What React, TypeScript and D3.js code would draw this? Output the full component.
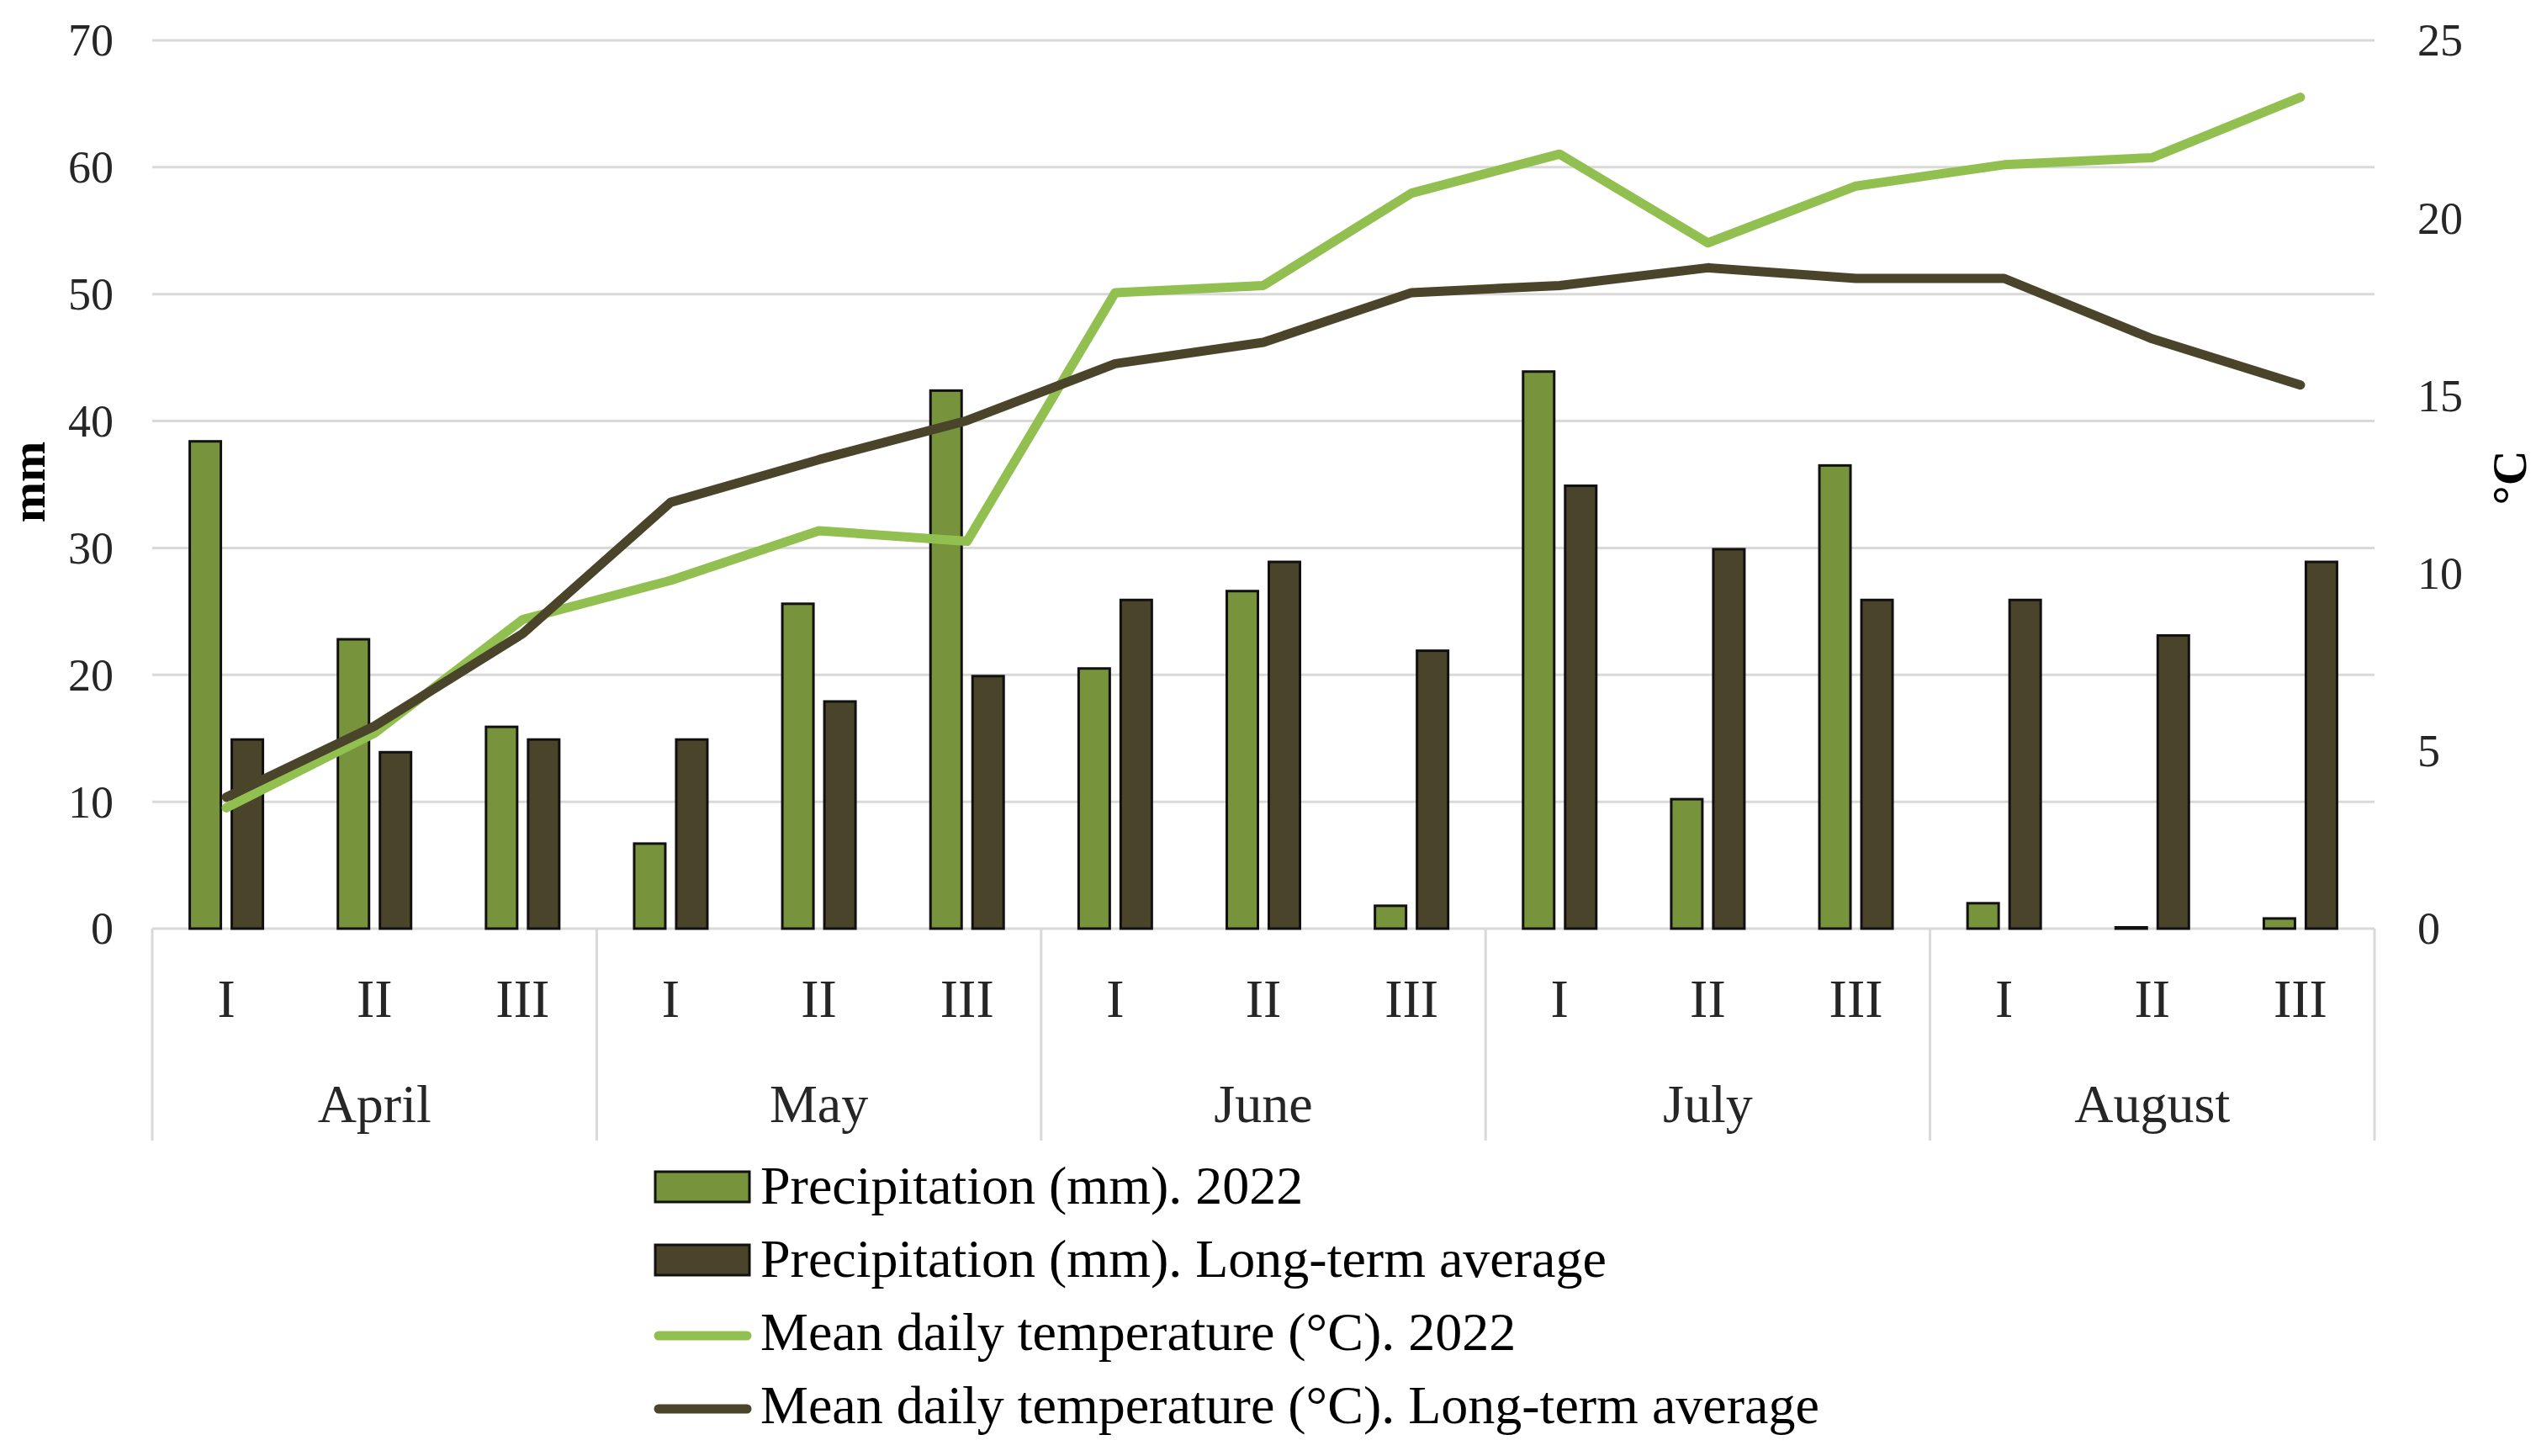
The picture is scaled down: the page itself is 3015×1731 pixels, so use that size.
import { useEffect, useRef } from "react";
import * as d3 from "d3";

// Ten-day precipitation (bars, left axis) and mean daily temperature (lines, right axis)
const months = ["April", "May", "June", "July", "August"];
const decades = ["I", "II", "III"];
const precip2022 = [38.5, 22.9, 16.0, 6.8, 25.7, 42.5, 20.6, 26.7, 1.9, 44.0, 10.3, 36.6, 2.1, 0.2, 0.9];
const precipAvg = [15, 14, 15, 15, 18, 20, 26, 29, 22, 35, 30, 26, 26, 23.2, 29];
const temp2022 = [3.4, 5.5, 8.7, 9.8, 11.2, 10.9, 17.9, 18.1, 20.7, 21.8, 19.3, 20.9, 21.5, 21.7, 23.4];
const tempAvg = [3.7, 5.7, 8.3, 12.0, 13.2, 14.3, 15.9, 16.5, 17.9, 18.1, 18.6, 18.3, 18.3, 16.6, 15.3];
const mmTicks = [0, 10, 20, 30, 40, 50, 60, 70];
const degTicks = [0, 5, 10, 15, 20, 25];
const legendLabels = [
    "Precipitation (mm). 2022",
    "Precipitation (mm). Long-term average",
    "Mean daily temperature (°C). 2022",
    "Mean daily temperature (°C). Long-term average",
];

const W = 3015;
const H = 1731;
const FONT = "'Liberation Serif', 'Times New Roman', serif";
const C_BAR22 = "#77933c";
const C_BARAVG = "#4a452a";
const C_LINE22 = "#92c050";
const C_LINEAVG = "#4a452a";
const GRID = "#d9d9d9";

export default function App() {
    const svgRef = useRef<SVGSVGElement>(null);

    useEffect(() => {
        if (!svgRef.current) return;
        const svg = d3.select(svgRef.current);
        svg.selectAll("*").remove();

        const left = 181, right = 2823, top = 48, bottom = 1104;
        const cats = months.flatMap(m => decades.map(d => `${m}-${d}`));

        const x = d3.scaleBand<string>().domain(cats).range([left, right]).padding(0);
        const sub = d3.scaleBand<string>().domain(["p22", "avg"]).range([-45, 45]).paddingInner(0.2);
        const yMm = d3.scaleLinear().domain([0, 70]).range([bottom, top]);
        const yDeg = d3.scaleLinear().domain([0, 25]).range([bottom, top]);
        const cx = (i: number) => x(cats[i])! + x.bandwidth() / 2;

        svg.append("rect").attr("width", W).attr("height", H).attr("fill", "#ffffff");

        // gridlines
        svg.append("g").selectAll("line").data(mmTicks.filter(t => t > 0)).join("line")
            .attr("x1", left).attr("x2", right)
            .attr("y1", d => yMm(d)).attr("y2", d => yMm(d))
            .attr("stroke", GRID).attr("stroke-width", 3);

        // category axis
        svg.append("line").attr("x1", left).attr("x2", right).attr("y1", bottom).attr("y2", bottom)
            .attr("stroke", GRID).attr("stroke-width", 3);
        const sepX = months.map((_, m) => x(cats[m * 3])!).concat([right]);
        svg.append("g").selectAll("line").data(sepX).join("line")
            .attr("x1", d => d).attr("x2", d => d).attr("y1", bottom).attr("y2", 1356)
            .attr("stroke", GRID).attr("stroke-width", 3);

        svg.append("g").selectAll("text").data(cats).join("text")
            .attr("x", (_, i) => cx(i)).attr("y", 1209)
            .attr("text-anchor", "middle").attr("font-family", FONT).attr("font-size", 64).attr("fill", "#262626")
            .text(d => d.split("-")[1]);
        svg.append("g").selectAll("text").data(months).join("text")
            .attr("x", (_, m) => (sepX[m] + sepX[m + 1]) / 2).attr("y", 1334)
            .attr("text-anchor", "middle").attr("font-family", FONT).attr("font-size", 64).attr("fill", "#262626")
            .text(d => d);

        // bars
        const barG = svg.append("g");
        const series = [
            { key: "p22", values: precip2022, fill: C_BAR22 },
            { key: "avg", values: precipAvg, fill: C_BARAVG },
        ];
        series.forEach(s => {
            barG.append("g").selectAll("rect").data(s.values).join("rect")
                .attr("x", (_, i) => cx(i) + sub(s.key)! + 1.5)
                .attr("width", sub.bandwidth() - 3)
                .attr("y", d => yMm(d) + 1.5)
                .attr("height", d => Math.max(0, yMm(0) - yMm(d) - 1.5))
                .attr("fill", s.fill).attr("stroke", "#111111").attr("stroke-width", 3);
        });

        // temperature lines
        const line = d3.line<number>().x((_, i) => cx(i)).y(d => yDeg(d));
        svg.append("path").datum(temp2022).attr("d", line)
            .attr("fill", "none").attr("stroke", C_LINE22).attr("stroke-width", 11)
            .attr("stroke-linejoin", "round").attr("stroke-linecap", "round");
        svg.append("path").datum(tempAvg).attr("d", line)
            .attr("fill", "none").attr("stroke", C_LINEAVG).attr("stroke-width", 11)
            .attr("stroke-linejoin", "round").attr("stroke-linecap", "round");

        // value axes
        svg.append("g").selectAll("text").data(mmTicks).join("text")
            .attr("x", 135).attr("y", d => yMm(d)).attr("dy", "0.34em")
            .attr("text-anchor", "end").attr("font-family", FONT).attr("font-size", 54).attr("fill", "#262626")
            .text(d => d);
        svg.append("g").selectAll("text").data(degTicks).join("text")
            .attr("x", 2874).attr("y", d => yDeg(d)).attr("dy", "0.34em")
            .attr("text-anchor", "start").attr("font-family", FONT).attr("font-size", 54).attr("fill", "#262626")
            .text(d => d);

        svg.append("text").attr("transform", "translate(53,573) rotate(-90)")
            .attr("text-anchor", "middle").attr("font-family", FONT).attr("font-size", 58)
            .attr("font-weight", "bold").attr("fill", "#000").text("mm");
        svg.append("text").attr("transform", "translate(3003,568) rotate(-90)")
            .attr("text-anchor", "middle").attr("font-family", FONT).attr("font-size", 58)
            .attr("font-weight", "bold").attr("fill", "#000").text("°C");

        // legend
        const lg = svg.append("g");
        legendLabels.forEach((label, i) => {
            const base = 1431 + i * 87;
            if (i < 2) {
                lg.append("rect").attr("x", 779).attr("y", base - 38).attr("width", 112).attr("height", 36)
                    .attr("fill", i === 0 ? C_BAR22 : C_BARAVG).attr("stroke", "#111111").attr("stroke-width", 3);
            } else {
                lg.append("line").attr("x1", 783).attr("x2", 888).attr("y1", base - 17).attr("y2", base - 17)
                    .attr("stroke", i === 2 ? C_LINE22 : C_LINEAVG).attr("stroke-width", 11).attr("stroke-linecap", "round");
            }
            lg.append("text").attr("x", 904).attr("y", base)
                .attr("font-family", FONT).attr("font-size", 64).attr("fill", "#000").text(label);
        });
    }, []);

    return (
        <svg
            ref={svgRef}
            width={W}
            height={H}
            viewBox={`0 0 ${W} ${H}`}
            style={{ position: "absolute", left: 0, top: 0, display: "block" }}
        />
    );
}
